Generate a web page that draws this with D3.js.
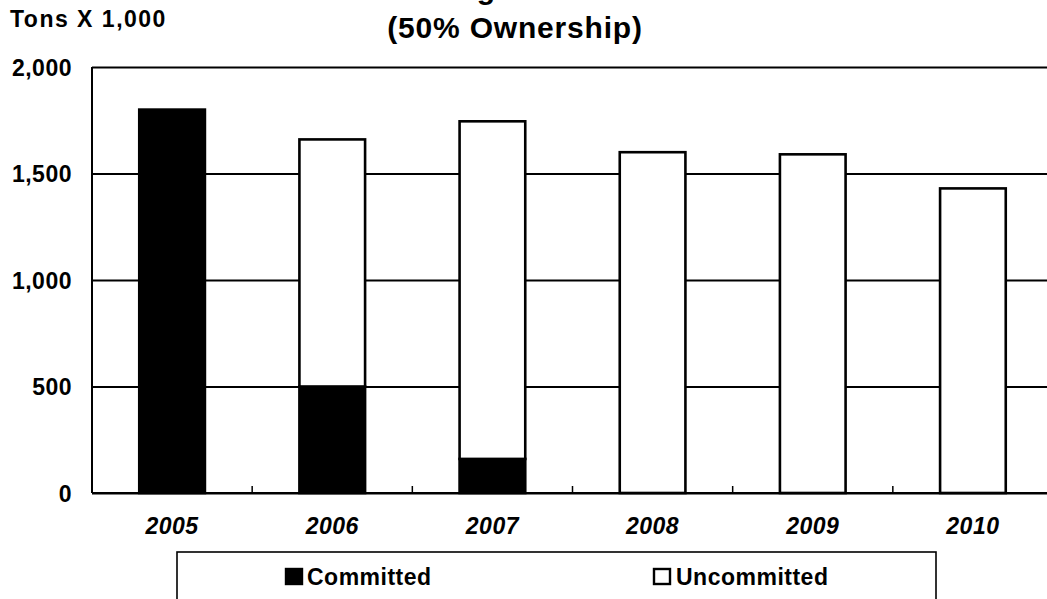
<!DOCTYPE html>
<html>
<head>
<meta charset="utf-8">
<script src="https://cdn.jsdelivr.net/npm/d3@7"></script>
<style>
  html, body { margin: 0; padding: 0; background: #fff; }
  svg { display: block; font-family: "Liberation Sans", Arial, Helvetica, sans-serif; }
</style>
</head>
<body>
<svg id="chart" width="1047" height="599"></svg>
<script>
// Annual tonnage, thousands of tons (50% ownership share)
const years = ["2005", "2006", "2007", "2008", "2009", "2010"];
const committed = [1800, 500, 160, 0, 0, 0];
const uncommitted = [0, 1160, 1585, 1600, 1590, 1430];
const yTicks = [0, 500, 1000, 1500, 2000];
const seriesNames = ["Committed", "Uncommitted"];

const svg = d3.select("#chart");
const W = 1047, H = 599;
const plot = { left: 92, right: 1053, top: 67, bottom: 493 };

svg.append("rect").attr("width", W).attr("height", H).attr("fill", "#fff");

const x = d3.scaleBand()
  .domain(years)
  .range([plot.left, plot.right])
  .paddingInner(0.59)
  .paddingOuter(0.295);

const y = d3.scaleLinear()
  .domain([0, 2000])
  .range([plot.bottom, plot.top]);

// Horizontal gridlines + value labels
const yAxis = d3.axisLeft(y)
  .tickValues(yTicks)
  .tickFormat(d3.format(","))
  .tickSizeInner(-(plot.right - plot.left))
  .tickSizeOuter(0)
  .tickPadding(20);

const gy = svg.append("g")
  .attr("transform", `translate(${plot.left},0)`)
  .call(yAxis);
gy.select(".domain").remove();
gy.selectAll(".tick line").attr("stroke", "#000").attr("stroke-width", 1.8);
gy.selectAll(".tick text")
  .attr("fill", "#000")
  .attr("font-size", 23)
  .attr("font-weight", "bold")
  .attr("letter-spacing", 0.5)
  .attr("dy", "0.36em");

// Stacked bars
const rows = years.map((yr, i) => ({ year: yr, committed: committed[i], uncommitted: uncommitted[i] }));
const stack = d3.stack().keys(["committed", "uncommitted"]);
const layers = stack(rows);
const fills = { committed: "#000", uncommitted: "#fff" };

const bars = svg.append("g");
layers.forEach(layer => {
  bars.selectAll(null)
    .data(layer.filter(d => d[1] - d[0] > 0))
    .join("rect")
    .attr("x", d => x(d.data.year))
    .attr("width", x.bandwidth())
    .attr("y", d => y(d[1]))
    .attr("height", d => y(d[0]) - y(d[1]))
    .attr("fill", fills[layer.key])
    .attr("stroke", "#000")
    .attr("stroke-width", 2.6);
});

// Category axis: baseline, boundary ticks, year labels
const gx = svg.append("g");
gx.append("line")
  .attr("x1", plot.left).attr("x2", plot.right)
  .attr("y1", y(0)).attr("y2", y(0))
  .attr("stroke", "#000").attr("stroke-width", 2);

const boundaries = years.slice(0, -1).map(yr => x(yr) + x.bandwidth() + (x.step() - x.bandwidth()) / 2);
gx.selectAll(".btick")
  .data(boundaries)
  .join("line")
  .attr("x1", d => d).attr("x2", d => d)
  .attr("y1", y(0)).attr("y2", y(0) - 7)
  .attr("stroke", "#000").attr("stroke-width", 1.5);

gx.selectAll(".ylab")
  .data(years)
  .join("text")
  .attr("x", d => x(d) + x.bandwidth() / 2)
  .attr("y", 534)
  .attr("text-anchor", "middle")
  .attr("font-size", 23)
  .attr("font-weight", "bold")
  .attr("font-style", "italic")
  .attr("letter-spacing", 0.5)
  .text(d => d);

// Value axis line
svg.append("line")
  .attr("x1", plot.left).attr("x2", plot.left)
  .attr("y1", plot.top).attr("y2", plot.bottom)
  .attr("stroke", "#000").attr("stroke-width", 2);

// Titles (first title line runs above the top edge; only its descender shows)
svg.append("text")
  .attr("x", 486).attr("y", -1.5)
  .attr("text-anchor", "middle")
  .attr("font-size", 30).attr("font-weight", "bold")
  .text("g");

svg.append("text")
  .attr("x", 515).attr("y", 38)
  .attr("text-anchor", "middle")
  .attr("font-size", 30).attr("font-weight", "bold")
  .attr("letter-spacing", 0.8)
  .text("(50% Ownership)");

svg.append("text")
  .attr("x", 10).attr("y", 27)
  .attr("font-size", 23).attr("font-weight", "bold")
  .attr("letter-spacing", 1.5)
  .text("Tons X 1,000");

// Legend
const legend = svg.append("g");
legend.append("rect")
  .attr("x", 177).attr("y", 552)
  .attr("width", 936 - 177).attr("height", 60)
  .attr("fill", "#fff").attr("stroke", "#000").attr("stroke-width", 1.6);

const legendItems = [
  { name: seriesNames[0], fill: "#000", sx: 286, tx: 307 },
  { name: seriesNames[1], fill: "#fff", sx: 654, tx: 676 }
];
const li = legend.selectAll(".item").data(legendItems).join("g");
li.append("rect")
  .attr("x", d => d.sx).attr("y", 569)
  .attr("width", 16).attr("height", 15)
  .attr("fill", d => d.fill)
  .attr("stroke", "#000").attr("stroke-width", 2.4);
li.append("text")
  .attr("x", d => d.tx).attr("y", 585)
  .attr("font-size", 23).attr("font-weight", "bold")
  .attr("letter-spacing", 0.5)
  .text(d => d.name);
</script>
</body>
</html>
